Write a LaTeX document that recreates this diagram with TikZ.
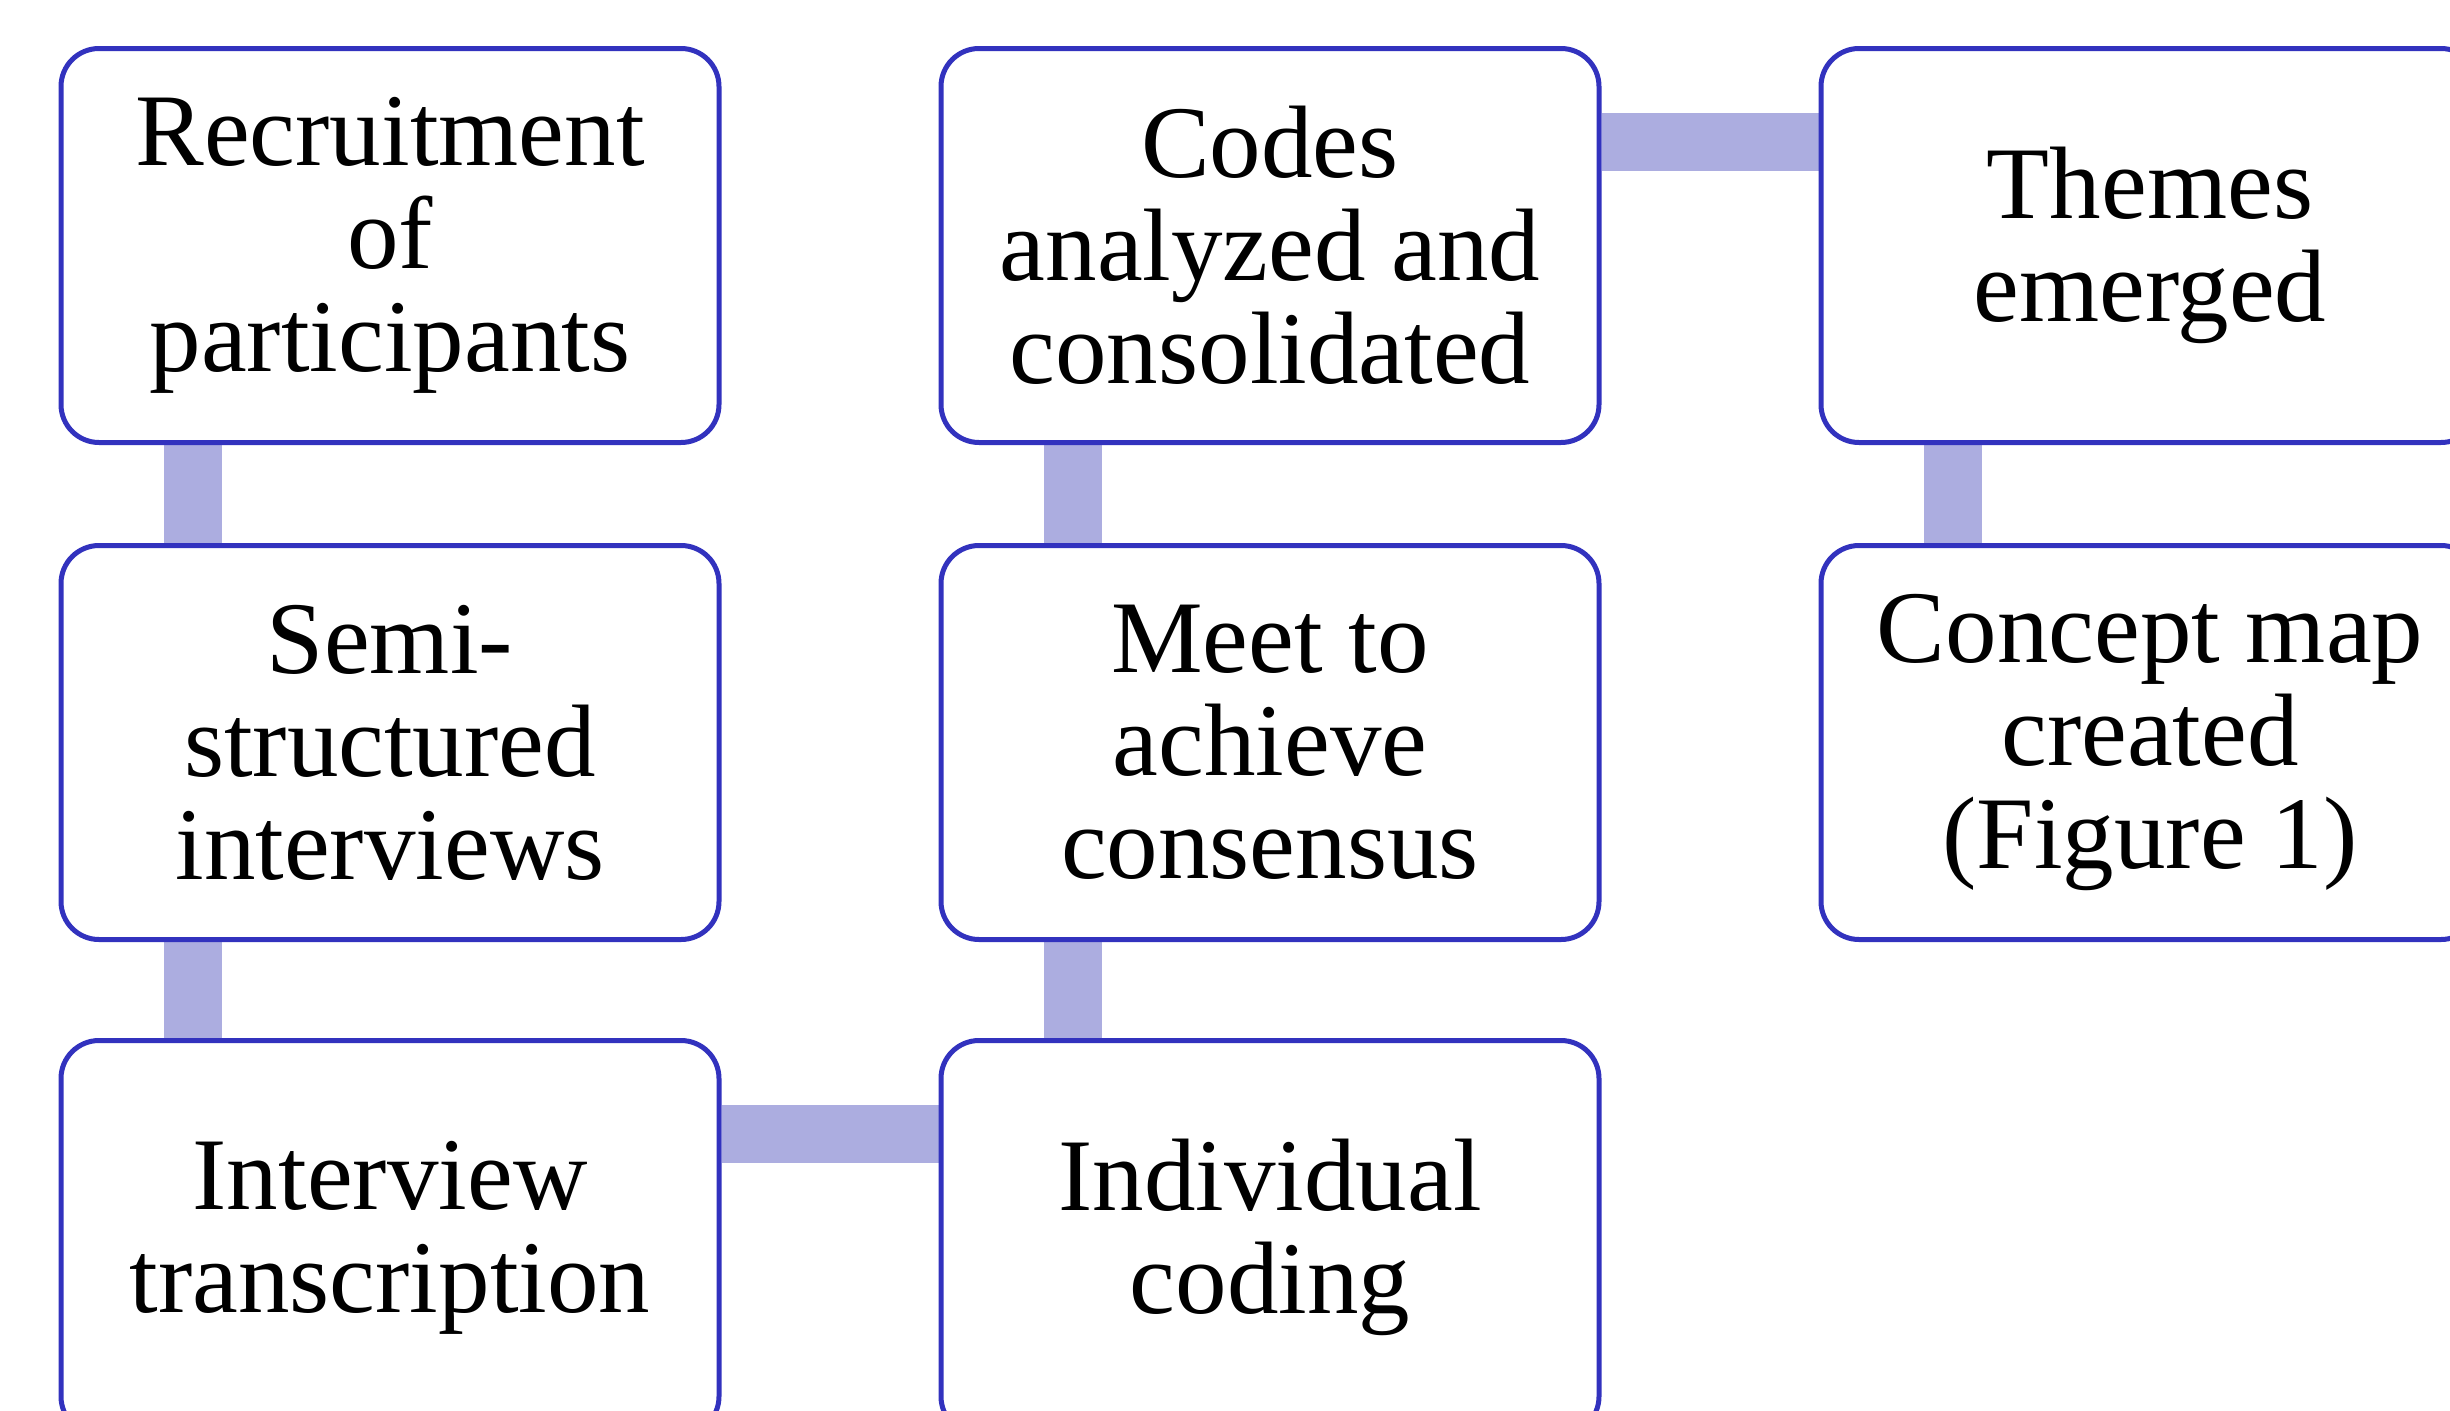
\documentclass[tikz,border=0pt]{standalone}
\usepackage{fontspec}
\setmainfont{Liberation Serif}
\usetikzlibrary{backgrounds}
\definecolor{boxblue}{RGB}{50,50,190}
\definecolor{barblue}{RGB}{172,173,224}

\begin{document}
\begin{tikzpicture}[x=1pt, y=-1pt,
        stepbox/.style={draw=boxblue, line width=5pt, fill=white, rectangle, rounded corners=38pt, align=center, minimum width=658pt, minimum height=394pt, inner sep=0pt, font=\fontsize{103}{103}\selectfont},
        bar/.style={draw=barblue, line width=58pt}]
                \useasboundingbox (0,0) rectangle (2450,1411);
                \clip (0,0) rectangle (2450,1411);

                \node[stepbox] (recruit) at (390,245.5) {Recruitment\\of\\participants};
                \node[stepbox] (semi) at (390,742.5) {Semi-\\structured\\interviews};
                \node[stepbox] (transcr) at (390,1237.5) {Interview\\transcription};
                \node[stepbox] (coding) at (1270,1237.5) {Individual\\coding};
                \node[stepbox] (meet) at (1270,742.5) {Meet to\\achieve\\consensus};
                \node[stepbox] (codes) at (1270,245.5) {Codes\\analyzed and\\consolidated};
                \node[stepbox] (themes) at (2150,245.5) {Themes\\emerged};
                \node[stepbox] (cmap) at (2150,742.5) {Concept map\\created\\(Figure 1)};

                \begin{pgfonlayer}{background}
                \draw[bar] ([xshift=134pt]recruit.south west) -- ([xshift=134pt]semi.north west);
                \draw[bar] ([xshift=134pt]semi.south west) -- ([xshift=134pt]transcr.north west);
                \draw[bar] ([yshift=-96pt]transcr.north east) -- ([yshift=-96pt]coding.north west);
                \draw[bar] ([xshift=134pt]coding.north west) -- ([xshift=134pt]meet.south west);
                \draw[bar] ([xshift=134pt]meet.north west) -- ([xshift=134pt]codes.south west);
                \draw[bar] ([yshift=-96pt]codes.north east) -- ([yshift=-96pt]themes.north west);
                \draw[bar] ([xshift=134pt]themes.south west) -- ([xshift=134pt]cmap.north west);
                \end{pgfonlayer}
            \end{tikzpicture}
\end{document}
